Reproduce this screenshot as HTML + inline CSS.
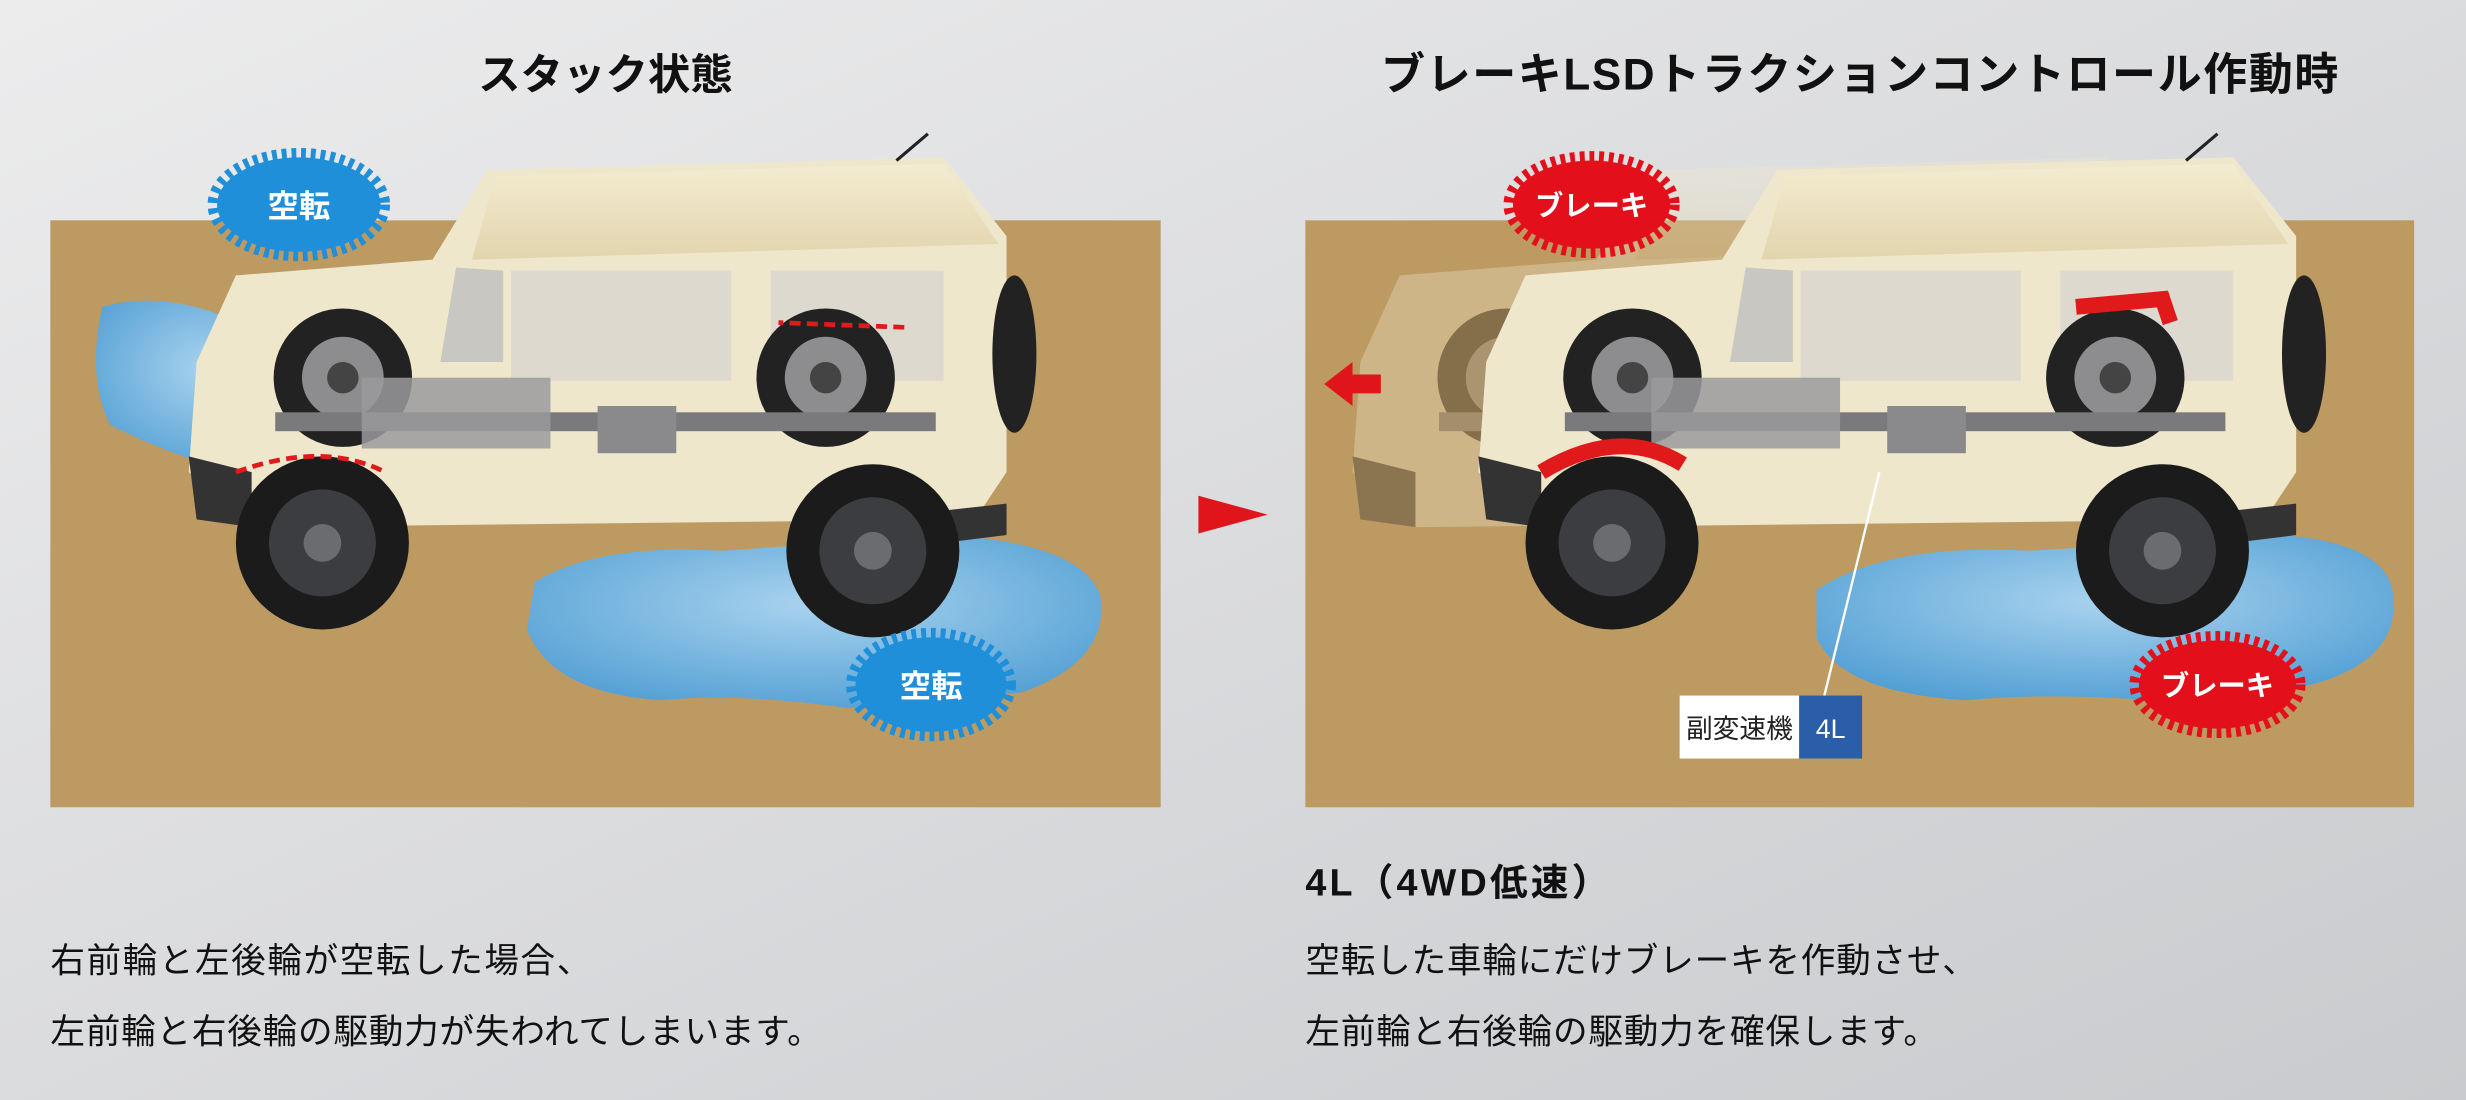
<!DOCTYPE html>
<html><head><meta charset="utf-8"><style>
html,body{margin:0;padding:0;width:2466px;height:1100px;overflow:hidden}
svg{display:block}
text{font-family:"Liberation Sans","Noto Sans CJK JP",sans-serif}
</style></head><body>
<svg width="2466" height="1100" viewBox="0 0 1568 699" preserveAspectRatio="none" xmlns="http://www.w3.org/2000/svg">
<defs>
<linearGradient id="bg" x1="0" y1="0" x2="1" y2="1"><stop offset="0" stop-color="#ececed"/><stop offset="1" stop-color="#c9cbce"/></linearGradient>
<radialGradient id="wat" cx="0.5" cy="0.4" r="0.7"><stop offset="0" stop-color="#a9d3ee"/><stop offset="1" stop-color="#4b9bd2"/></radialGradient>
<linearGradient id="roof" x1="0" y1="0" x2="0" y2="1"><stop offset="0" stop-color="#f4ecd2"/><stop offset="1" stop-color="#e2d5ad"/></linearGradient>
<g id="wheel"><circle r="55" fill="#1b1b1b"/><circle r="34" fill="#3c3d40"/><circle r="12" fill="#6b6c70"/></g>
<g id="inwheel"><circle r="44" fill="#222"/><circle r="26" fill="#8d8d8f"/><circle r="10" fill="#444"/></g>
<g id="car">
 <path d="M310,108 L600,100 L640,150 L640,300 L620,330 L160,335 L120,300 L125,230 L150,175 L275,165 Z" fill="#efe7cc"/>
 <path d="M315,112 L600,104 L635,155 L300,165 Z" fill="url(#roof)"/>
 <rect x="325" y="172" width="140" height="70" fill="#d9d6cf" opacity="0.8"/>
 <rect x="490" y="172" width="110" height="70" fill="#d9d6cf" opacity="0.8"/>
 <path d="M290,170 L320,172 L320,230 L280,230 Z" fill="#c9c7c1"/>
 <ellipse cx="645" cy="225" rx="14" ry="50" fill="#222"/>
 <path d="M120,290 L160,300 L160,335 L125,330 Z" fill="#333"/>
 <use href="#inwheel" x="218" y="240"/>
 <use href="#inwheel" x="525" y="240"/>
 <rect x="175" y="262" width="420" height="12" fill="#7a7a7c"/>
 <rect x="230" y="240" width="120" height="45" fill="#9a9a9c" opacity="0.85"/>
 <rect x="380" y="258" width="50" height="30" fill="#8a8a8c"/>
 <path d="M595,325 L640,320 L640,340 L600,345 Z" fill="#333"/>
</g>
</defs>
<rect width="1568" height="699" fill="url(#bg)"/>

<text x="385" y="57" font-size="27" font-weight="bold" text-anchor="middle" fill="#111">スタック状態</text>
<text x="1183" y="57" font-size="28" font-weight="bold" text-anchor="middle" fill="#111" letter-spacing="1">ブレーキLSDトラクションコントロール作動時</text>

<rect x="32" y="140" width="706" height="373" fill="#bc9a62"/>
<path d="M65,195 Q100,185 140,200 L205,215 L200,290 L150,300 Q110,290 70,270 Q55,240 65,195 Z" fill="url(#wat)"/>
<path d="M340,370 Q380,345 460,350 L600,340 Q690,345 700,380 Q705,420 650,440 L540,450 Q470,440 420,445 Q350,440 335,400 Z" fill="url(#wat)"/>
<use href="#car"/>
<use href="#wheel" x="205" y="345"/>
<use href="#wheel" x="555" y="350"/>
<line x1="575" y1="208" x2="495" y2="205" stroke="#e01a1a" stroke-width="3" stroke-dasharray="7,4"/>
<path d="M150,300 Q205,280 245,300" fill="none" stroke="#e01a1a" stroke-width="3" stroke-dasharray="7,4"/>
<line x1="590" y1="85" x2="570" y2="102" stroke="#222" stroke-width="2"/>

<g transform="translate(190,130)">
 <ellipse rx="52" ry="30" fill="#1e8fd8" stroke="#1e8fd8" stroke-width="12" stroke-dasharray="3,3"/>
 <text y="8" font-size="20" font-weight="bold" text-anchor="middle" fill="#fff">空転</text>
</g>
<g transform="translate(592,435)">
 <ellipse rx="48" ry="30" fill="#1e8fd8" stroke="#1e8fd8" stroke-width="12" stroke-dasharray="3,3"/>
 <text y="8" font-size="20" font-weight="bold" text-anchor="middle" fill="#fff">空転</text>
</g>

<polygon points="762,315 806,327 762,339" fill="#e0151c"/>

<rect x="830" y="140" width="705" height="373" fill="#bc9a62"/>
<path d="M1155,375 Q1200,345 1290,350 L1450,340 Q1520,345 1522,380 Q1525,420 1470,435 L1370,445 Q1300,440 1250,445 Q1170,440 1155,405 Z" fill="url(#wat)"/>
<g opacity="0.35"><use href="#car" x="740"/></g>
<g transform="translate(820,0)"><use href="#car"/></g>
<use href="#wheel" x="1025" y="345"/>
<use href="#wheel" x="1375" y="350"/>
<path d="M980,300 Q1030,270 1070,295" fill="none" stroke="#e01a1a" stroke-width="10"/>
<path d="M1320,195 L1375,190 L1380,205" fill="none" stroke="#e01a1a" stroke-width="10"/>
<polygon points="842,244 860,230 860,238 878,238 878,250 860,250 860,258" fill="#e0151c"/>
<line x1="1410" y1="85" x2="1390" y2="102" stroke="#222" stroke-width="2"/>
<line x1="1195" y1="300" x2="1160" y2="442" stroke="#fff" stroke-width="1.5"/>

<g transform="translate(1012,130)">
 <ellipse rx="50" ry="28" fill="#e3101b" stroke="#e3101b" stroke-width="12" stroke-dasharray="3,3"/>
 <text y="7" font-size="18" font-weight="bold" text-anchor="middle" fill="#fff">ブレーキ</text>
</g>
<g transform="translate(1410,435)">
 <ellipse rx="50" ry="28" fill="#e3101b" stroke="#e3101b" stroke-width="12" stroke-dasharray="3,3"/>
 <text y="7" font-size="18" font-weight="bold" text-anchor="middle" fill="#fff">ブレーキ</text>
</g>

<rect x="1068" y="442" width="76" height="40" fill="#fff"/>
<rect x="1144" y="442" width="40" height="40" fill="#2a5ea8"/>
<text x="1106" y="469" font-size="17" text-anchor="middle" fill="#222">副変速機</text>
<text x="1164" y="469" font-size="17" text-anchor="middle" fill="#fff">4L</text>

<text x="830" y="569" font-size="24" font-weight="bold" fill="#111" letter-spacing="2">4L（4WD低速）</text>

<text x="32" y="618" font-size="22" fill="#111" letter-spacing="1">右前輪と左後輪が空転した場合、</text>
<text x="32" y="663" font-size="22" fill="#111" letter-spacing="0.5">左前輪と右後輪の駆動力が失われてしまいます。</text>
<text x="830" y="618" font-size="22" fill="#111" letter-spacing="0.5">空転した車輪にだけブレーキを作動させ、</text>
<text x="830" y="663" font-size="22" fill="#111" letter-spacing="0.5">左前輪と右後輪の駆動力を確保します。</text>
</svg>
</body></html>
